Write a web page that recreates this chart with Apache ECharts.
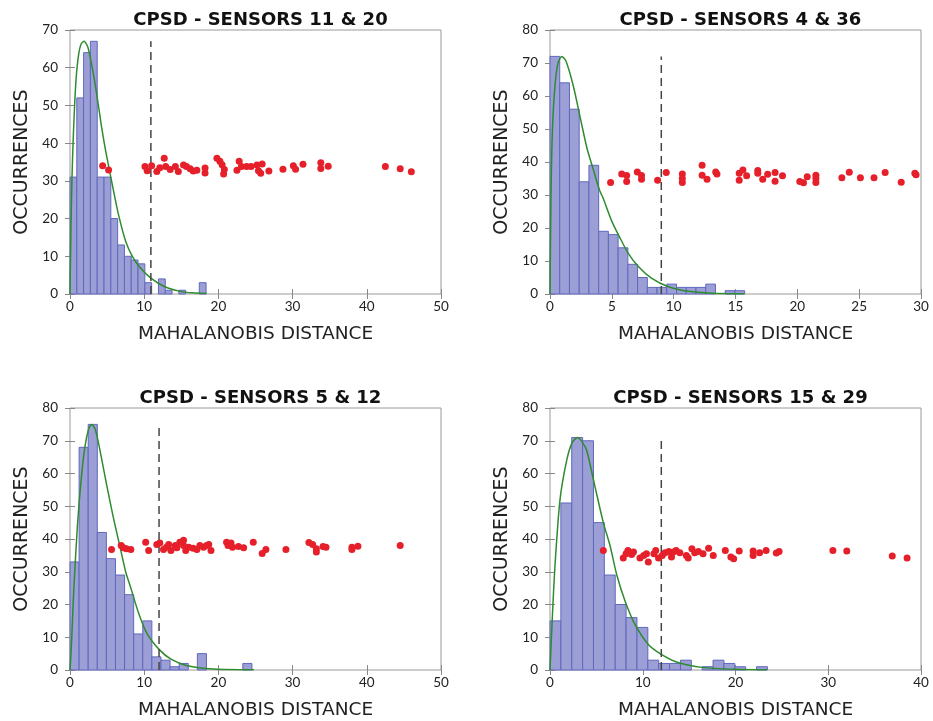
<!DOCTYPE html>
<html>
<head>
<meta charset="utf-8">
<script src="https://cdn.jsdelivr.net/npm/echarts@6/dist/echarts.min.js"></script>
<style>
html,body{margin:0;padding:0;background:#fff;}
#chart{width:933px;height:721px;}
</style>
</head>
<body>
<div id="chart"></div>
<script>
// ---------- DATA ----------
const titles = ['CPSD - SENSORS 11 & 20', 'CPSD - SENSORS 4 & 36', 'CPSD - SENSORS 5 & 12', 'CPSD - SENSORS 15 & 29'];
const xAxisName = 'MAHALANOBIS DISTANCE';
const yAxisName = 'OCCURRENCES';
const xMaxes = [50, 30, 50, 40];
const xIntervals = [10, 5, 10, 10];
const yMaxes = [70, 80, 80, 80];
const yInterval = 10;

// histogram bins (bin width, counts starting at 0)
const binWidth1 = 0.917;
const counts1 = [31, 52, 64, 67, 31, 31, 20, 13, 10, 9, 8, 3, 0, 4, 1, 0, 1, 0, 0, 3];
const binWidth2 = 0.787;
const counts2 = [72, 64, 56, 34, 39, 19, 18, 14, 9, 5, 2, 2, 3, 2, 2, 2, 3, 0, 1, 1];
const binWidth3 = 1.226;
const counts3 = [33, 68, 75, 42, 34, 29, 23, 11, 15, 4, 3, 1, 2, 0, 5, 0, 0, 0, 0, 2];
const binWidth4 = 1.172;
const counts4 = [15, 51, 71, 70, 45, 29, 20, 16, 13, 3, 2, 2, 3, 0, 1, 3, 2, 1, 0, 1];

// fitted curves
const curveX1 = [0, 0.1, 0.27, 0.45, 0.67, 0.9, 1.2, 1.5, 1.9, 2.4, 3.0, 3.6, 4.2, 4.8, 5.4, 5.9, 6.6, 7.5, 8.4, 9.5, 10.9, 12.7, 14.9, 16.5, 18.4];
const curveY1 = [0, 14, 31, 42, 52, 59, 64, 66.3, 67, 65.5, 60, 53, 45, 38, 32, 27, 20.5, 14, 10, 6.9, 4.2, 2, 0.7, 0.3, 0.1];
const curveX2 = [0, 0.08, 0.2, 0.4, 0.65, 0.95, 1.3, 1.9, 2.43, 3.0, 3.4, 4.0, 4.3, 5.0, 5.66, 6.33, 7.14, 8.2, 9.57, 11.2, 13.1, 15.7];
const curveY2 = [0, 30, 50, 63, 70, 72, 70.5, 62.8, 53.7, 44, 39, 31.5, 29, 22, 17, 12.3, 8.3, 4.8, 2.2, 0.8, 0.25, 0.05];
const curveX3 = [0, 0.2, 0.5, 1.0, 1.5, 2.0, 2.5, 2.9, 3.4, 4.0, 4.9, 5.8, 6.7, 7.5, 8.2, 9.3, 10.4, 12.0, 13.6, 15.8, 19.4, 24.8];
const curveY3 = [0, 8, 24, 44, 58, 68, 73.5, 75, 73.5, 67.5, 57, 47, 38, 30, 25, 17, 11, 6.3, 3.3, 1.3, 0.3, 0.05];
const curveX4 = [0, 0.25, 0.54, 1.08, 1.8, 2.4, 2.98, 3.5, 3.96, 4.85, 5.75, 6.47, 7.2, 8.1, 9.16, 10.6, 12.0, 13.8, 16.4, 20.0, 23.4];
const curveY4 = [0, 16, 32, 52, 64, 69.5, 71, 69.5, 67, 56, 45, 38, 29, 21, 13.9, 7.8, 4.8, 2.3, 0.8, 0.2, 0.05];

// thresholds (dashed lines)
const thresholds = [10.9, 9.0, 12.0, 12.0];

// test points (red dots)
const dotsX1 = [4.4, 5.2, 10.1, 10.4, 11.0, 11.7, 12.1, 12.7, 12.9, 13.5, 14.2, 14.6, 15.3, 15.7, 16.2, 16.6, 17.1, 18.2, 18.2, 19.8, 20.2, 20.5, 20.7, 20.8, 22.5, 22.8, 23.1, 23.8, 24.4, 25.2, 25.4, 25.7, 25.9, 26.8, 28.7, 30.1, 30.4, 31.4, 33.8, 33.8, 34.8, 42.5, 44.5, 46.0];
const dotsY1 = [34.0, 32.9, 33.8, 32.7, 34.0, 32.5, 33.5, 36.0, 33.8, 33.0, 33.8, 32.5, 34.2, 33.8, 33.2, 32.6, 32.8, 32.1, 33.4, 36.0, 35.2, 34.3, 31.8, 33.0, 32.8, 35.2, 33.8, 33.8, 33.8, 34.2, 32.7, 32.0, 34.5, 32.6, 33.1, 34.0, 33.1, 34.4, 34.8, 33.3, 33.9, 33.8, 33.2, 32.4];
const dotsX2 = [4.9, 5.8, 6.2, 6.2, 7.06, 7.4, 7.4, 8.7, 9.4, 10.7, 10.7, 10.7, 12.3, 12.3, 12.7, 13.4, 13.5, 15.3, 15.3, 15.6, 15.9, 16.8, 16.8, 17.2, 17.6, 18.2, 18.2, 18.8, 20.2, 20.5, 20.8, 21.5, 21.5, 21.5, 23.6, 24.2, 25.1, 26.2, 27.1, 28.4, 29.5, 29.6];
const dotsY2 = [33.8, 36.4, 35.9, 34.1, 37.0, 35.9, 34.8, 34.5, 36.8, 36.4, 35.0, 33.8, 39.0, 36.0, 34.8, 37.0, 36.4, 36.6, 34.5, 37.6, 35.8, 37.4, 36.6, 34.8, 36.3, 36.8, 34.2, 35.8, 34.1, 33.7, 35.5, 36.0, 35.0, 33.8, 35.2, 36.9, 35.2, 35.2, 36.8, 33.9, 36.6, 36.1];
const dotsX3 = [5.6, 6.9, 7.2, 7.6, 8.2, 10.2, 10.6, 11.7, 12.1, 12.6, 13.0, 13.3, 13.6, 14.2, 14.4, 14.8, 15.3, 15.3, 15.6, 16.0, 16.6, 17.1, 17.5, 18.0, 18.4, 18.7, 19.0, 21.1, 21.3, 21.7, 21.9, 22.7, 23.4, 24.7, 25.9, 26.4, 29.1, 32.2, 32.7, 33.2, 33.2, 34.1, 34.5, 38.0, 38.0, 38.8, 44.5];
const dotsY3 = [36.8, 38.0, 37.3, 37.0, 36.8, 39.0, 36.5, 38.3, 38.8, 36.8, 37.5, 38.3, 36.5, 38.0, 37.3, 39.0, 39.6, 38.0, 36.5, 37.5, 37.2, 36.8, 38.0, 37.5, 38.0, 38.3, 36.5, 39.0, 38.0, 38.8, 37.5, 37.7, 37.3, 39.0, 35.6, 36.8, 36.8, 38.9, 38.3, 37.0, 36.0, 37.7, 37.5, 37.5, 36.8, 37.8, 38.0];
const dotsX4 = [5.75, 7.9, 8.2, 8.4, 8.8, 9.0, 9.7, 10.1, 10.4, 10.6, 11.2, 11.4, 11.7, 12.1, 12.4, 12.8, 13.1, 13.3, 13.6, 14.0, 14.7, 14.9, 15.3, 15.6, 16.0, 16.5, 17.1, 17.6, 18.9, 19.5, 19.8, 20.4, 21.9, 21.9, 22.6, 23.3, 24.4, 24.7, 30.5, 32.0, 36.9, 38.5];
const dotsY4 = [36.5, 34.2, 35.5, 36.5, 35.3, 36.0, 34.2, 35.0, 35.5, 33.0, 35.5, 36.5, 34.2, 35.0, 35.8, 36.2, 34.5, 36.0, 36.5, 35.8, 35.0, 34.2, 37.0, 35.8, 36.2, 35.5, 37.2, 35.0, 36.5, 34.5, 34.0, 36.3, 36.3, 35.0, 35.8, 36.5, 35.7, 36.2, 36.5, 36.3, 34.8, 34.2];

// ---------- BUILD ----------
const panels = [
  {bw: binWidth1, counts: counts1, cx: curveX1, cy: curveY1, dx: dotsX1, dy: dotsY1},
  {bw: binWidth2, counts: counts2, cx: curveX2, cy: curveY2, dx: dotsX2, dy: dotsY2},
  {bw: binWidth3, counts: counts3, cx: curveX3, cy: curveY3, dx: dotsX3, dy: dotsY3},
  {bw: binWidth4, counts: counts4, cx: curveX4, cy: curveY4, dx: dotsX4, dy: dotsY4}
];
const gridPos = [
  {left: 70, top: 30, width: 371, height: 264},
  {left: 550, top: 30, width: 371, height: 264},
  {left: 70, top: 408, width: 371, height: 265},
  {left: 550, top: 408, width: 371, height: 265}
];
const FONT = '"DejaVu Sans", sans-serif';
const TICKFONT = 'Lato, "Open Sans", sans-serif';
const BAR_FILL = 'rgb(156,158,214)';
const BAR_EDGE = 'rgb(96,104,188)';
const GREEN = 'rgb(46,140,46)';
const RED = '#e5202a';

const grids = [], xAxes = [], yAxes = [], series = [], titleList = [];

panels.forEach((p, i) => {
  const g = gridPos[i];
  grids.push(Object.assign({show: true, borderColor: '#9a9a9a', borderWidth: 1, containLabel: false}, g));
  titleList.push({
    text: titles[i], left: g.left + g.width / 2, top: g.top - 24, textAlign: 'center',
    textStyle: {fontFamily: FONT, fontWeight: 'bold', fontSize: 18, color: '#111'}
  });
  xAxes.push({
    gridIndex: i, type: 'value', min: 0, max: xMaxes[i], interval: xIntervals[i],
    position: 'bottom',
    name: xAxisName, nameLocation: 'middle', nameGap: 31,
    nameTextStyle: {fontFamily: FONT, fontSize: 18.5, color: '#222'},
    axisLine: {show: false}, splitLine: {show: false},
    axisTick: {show: true, inside: true, length: 5, lineStyle: {color: '#888'}},
    axisLabel: {fontFamily: TICKFONT, fontSize: 13.5, color: '#222', margin: 6}
  });
  xAxes.push({
    gridIndex: i, type: 'value', min: 0, max: xMaxes[i], interval: xIntervals[i],
    position: 'top',
    axisLine: {show: false}, splitLine: {show: false},
    axisTick: {show: true, inside: true, length: 5, lineStyle: {color: '#888'}},
    axisLabel: {show: false}
  });
  yAxes.push({
    gridIndex: i, type: 'value', min: 0, max: yMaxes[i], interval: yInterval,
    position: 'left',
    name: yAxisName, nameLocation: 'middle', nameGap: 38, nameRotate: 90,
    nameTextStyle: {fontFamily: FONT, fontSize: 19, color: '#222'},
    axisLine: {show: false}, splitLine: {show: false},
    axisTick: {show: true, inside: true, length: 5, lineStyle: {color: '#888'}},
    axisLabel: {fontFamily: TICKFONT, fontSize: 13.5, color: '#222', margin: 12}
  });
  yAxes.push({
    gridIndex: i, type: 'value', min: 0, max: yMaxes[i], interval: yInterval,
    position: 'right',
    axisLine: {show: false}, splitLine: {show: false},
    axisTick: {show: true, inside: true, length: 5, lineStyle: {color: '#888'}},
    axisLabel: {show: false}
  });

  const xi = i * 2, yi = i * 2;
  const histData = [];
  p.counts.forEach((c, k) => {
    if (c > 0) histData.push([k * p.bw, (k + 1) * p.bw, c]);
  });
  series.push({
    type: 'custom', xAxisIndex: xi, yAxisIndex: yi, z: 2,
    data: histData,
    encode: {x: [0, 1], y: 2},
    renderItem: function (params, api) {
      const a = api.coord([api.value(0), api.value(2)]);
      const b = api.coord([api.value(1), 0]);
      return {
        type: 'rect',
        shape: {x: a[0], y: a[1], width: b[0] - a[0], height: b[1] - a[1]},
        style: {fill: BAR_FILL, stroke: BAR_EDGE, lineWidth: 1}
      };
    }
  });
  series.push({
    type: 'line', xAxisIndex: xi, yAxisIndex: yi, z: 3,
    data: p.cx.map((x, k) => [x, p.cy[k]]),
    smooth: 0.25, showSymbol: false, symbol: 'none',
    lineStyle: {color: GREEN, width: 1.5}
  });
  const maxCount = Math.max.apply(null, p.counts);
  series.push({
    type: 'line', xAxisIndex: xi, yAxisIndex: yi, z: 4,
    data: [[thresholds[i], 0], [thresholds[i], maxCount]],
    showSymbol: false, symbol: 'none',
    lineStyle: {color: '#444', width: 1.5, type: [8, 5]}
  });
  series.push({
    type: 'scatter', xAxisIndex: xi, yAxisIndex: yi, z: 5,
    data: p.dx.map((x, k) => [x, p.dy[k]]),
    symbol: 'circle', symbolSize: 7,
    itemStyle: {color: RED, opacity: 1}
  });
});

const chart = echarts.init(document.getElementById('chart'), null, {renderer: 'canvas'});
chart.setOption({
  animation: false,
  backgroundColor: '#fff',
  title: titleList,
  grid: grids,
  xAxis: xAxes,
  yAxis: yAxes,
  series: series
});
</script>
</body>
</html>
